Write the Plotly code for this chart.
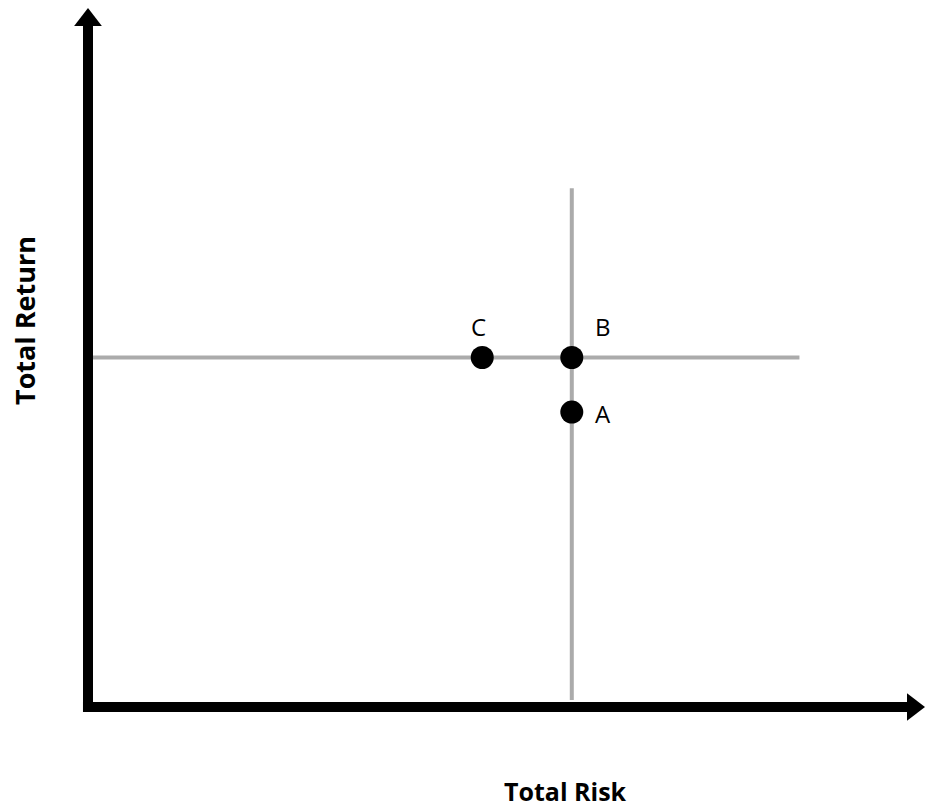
import plotly.graph_objects as go

# Data (arbitrary units: risk 0-100 on x, return 0-100 on y)
names = ["C", "B", "A"]
risk = [47.1, 57.8, 57.8]
ret = [50.0, 50.0, 42.2]

# reference lines
hline_x = [0.5, 85.0]
hline_y = [50.0, 50.0]
vline_x = [57.8, 57.8]
vline_y = [1.0, 74.2]

x_title = "Total Risk"
y_title = "Total Return"

fig = go.Figure()

grey = "#ababab"
fig.add_trace(go.Scatter(x=hline_x, y=hline_y, mode="lines",
                         line=dict(color=grey, width=4), hoverinfo="skip"))
fig.add_trace(go.Scatter(x=vline_x, y=vline_y, mode="lines",
                         line=dict(color=grey, width=4), hoverinfo="skip"))

# axes (thick black with arrows)
fig.add_trace(go.Scatter(x=[0, 0], y=[-0.7, 99.0], mode="lines",
                         line=dict(color="black", width=10), hoverinfo="skip"))
fig.add_trace(go.Scatter(x=[-0.6, 98.8], y=[0, 0], mode="lines",
                         line=dict(color="black", width=10), hoverinfo="skip"))
fig.add_trace(go.Scatter(x=[0], y=[98.28], mode="markers", cliponaxis=False,
                         marker=dict(symbol="triangle-up", size=24, color="black"),
                         hoverinfo="skip"))
fig.add_trace(go.Scatter(x=[98.57], y=[0], mode="markers", cliponaxis=False,
                         marker=dict(symbol="triangle-right", size=24, color="black"),
                         hoverinfo="skip"))

# points
fig.add_trace(go.Scatter(x=risk, y=ret, mode="markers", cliponaxis=False,
                         marker=dict(size=23, color="black"), text=names,
                         hoverinfo="text"))

label_shift = {"C": (-4, 31), "B": (31, 31), "A": (31, -1)}
for n, xv, yv in zip(names, risk, ret):
    dx, dy = label_shift[n]
    fig.add_annotation(x=xv, y=yv, text=n, showarrow=False, xshift=dx, yshift=dy,
                       font=dict(family="Open Sans", size=24, color="black"))

fig.add_annotation(x=57.1, y=-12.0, text=f"<b>{x_title}</b>", showarrow=False,
                   font=dict(family="Open Sans", size=25, color="black"))
fig.add_annotation(x=-7.65, y=55.36, text=f"<b>{y_title}</b>", showarrow=False,
                   textangle=-90,
                   font=dict(family="Open Sans", size=27, color="black"))

fig.update_xaxes(range=[-10.514, 100], visible=False, fixedrange=True)
fig.update_yaxes(range=[-14.592, 101.144], visible=False, fixedrange=True)
fig.update_layout(width=925, height=809, showlegend=False,
                  margin=dict(l=0, r=0, t=0, b=0),
                  paper_bgcolor="white", plot_bgcolor="white")

fig.write_html("out.html", config={"displayModeBar": False},
               post_script="document.body.style.margin='0px';")
